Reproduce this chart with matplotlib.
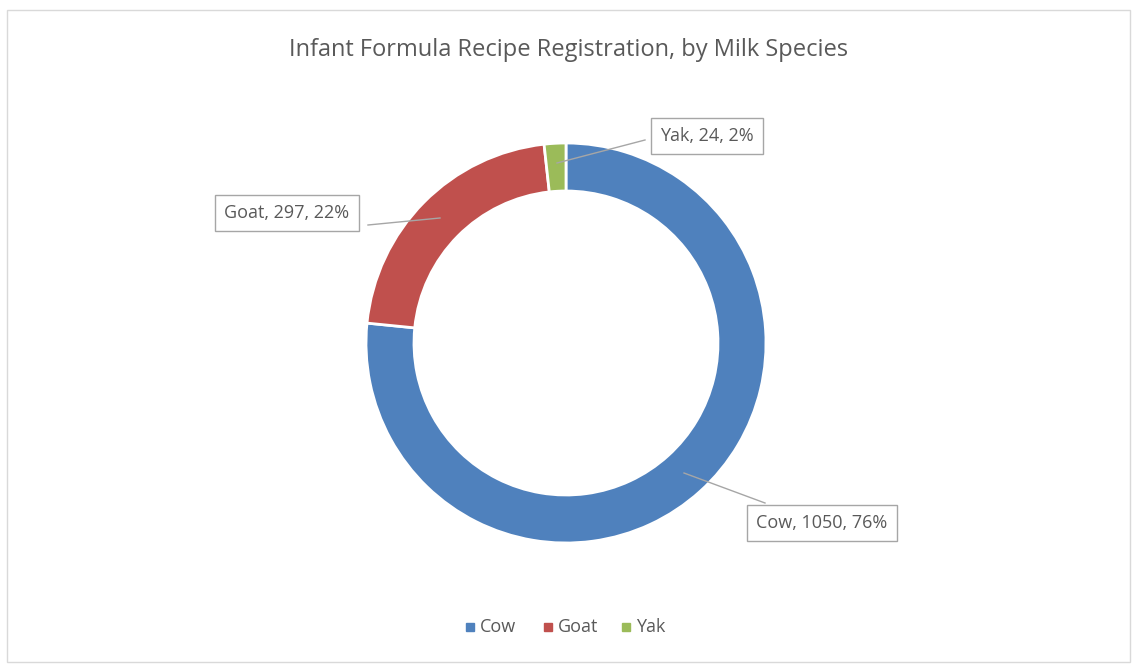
import matplotlib
matplotlib.use("Agg")
import matplotlib.pyplot as plt
from matplotlib.patches import Rectangle

categories = ["Cow", "Goat", "Yak"]
values = [1050, 297, 24]
percents = ["76%", "22%", "2%"]
colors = ["#4F81BD", "#C0504D", "#9BBB59"]

W, H = 1137, 672
fig = plt.figure(figsize=(W/100, H/100), dpi=100)
ax = fig.add_axes([0, 0, 1, 1])
ax.set_xlim(0, W); ax.set_ylim(0, H); ax.axis("off")
plt.rcParams['font.family'] = ['Open Sans', 'DejaVu Sans']

ax.add_patch(Rectangle((7, 10), 1123, 652, fill=False, ec="#D9D9D9", lw=1))

cx, cy = 566, H - 343
ax.pie(values, colors=colors, startangle=90, counterclock=False, center=(cx, cy),
       radius=200, wedgeprops=dict(width=48, edgecolor="white", linewidth=2), frame=True)
ax.set_xlim(0, W); ax.set_ylim(0, H); ax.axis("off")

ax.text(W/2, H - 50, "Infant Formula Recipe Registration, by Milk Species",
        ha="center", va="center", fontsize=17, color="#595959")

labels = [(f"{c}, {v}, {p}") for c, v, p in zip(categories, values, percents)]
boxes = [(822, 523), (287, 213), (707, 136)]
lines = [[(684, 473), (765, 503)], [(440, 218), (368, 225)], [(557, 163), (645, 140)]]
for lab, (bx, by), ln in zip(labels, boxes, lines):
    xs = [p[0] for p in ln]; ys = [H - p[1] for p in ln]
    ax.plot(xs, ys, color="#A6A6A6", lw=1)
    ax.text(bx, H - by, lab, ha="center", va="center", fontsize=13, color="#595959",
            bbox=dict(boxstyle="square,pad=0.5", fc="white", ec="#A6A6A6", lw=1))

lx = [470, 548, 626]
for x, c, col in zip(lx, categories, colors):
    ax.add_patch(Rectangle((x - 4, H - 631), 8, 8, color=col))
    ax.text(x + 10, H - 627, c, ha="left", va="center", fontsize=13, color="#595959")

fig.savefig("out.png", dpi=100)
